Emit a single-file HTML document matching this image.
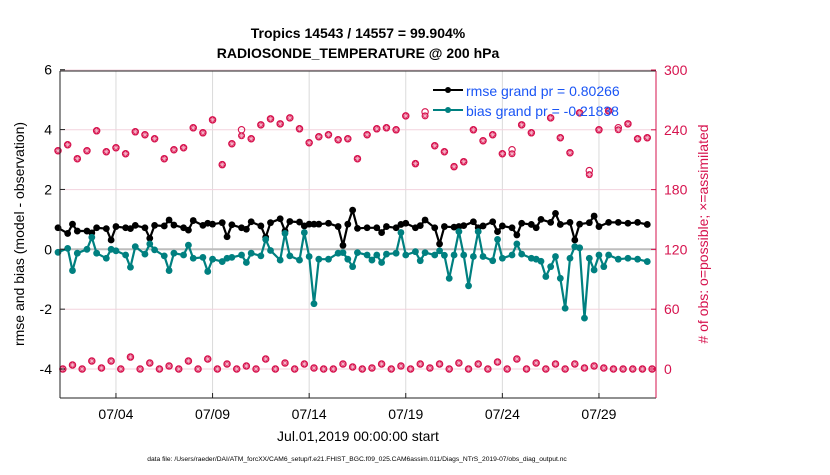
<!DOCTYPE html>
<html><head><meta charset="utf-8"><style>
body{margin:0;background:#fff;width:830px;height:470px;overflow:hidden;font-family:"Liberation Sans",sans-serif}
svg text{font-family:"Liberation Sans",sans-serif}
</style></head><body>
<svg id="chart" width="830" height="470" viewBox="0 0 830 470" xmlns="http://www.w3.org/2000/svg">
<rect width="830" height="470" fill="#fff"/>
<g id="grid"></g>
<g id="marks"></g>
<g id="axes"></g>
<text x="358" y="38" text-anchor="middle" font-size="14" font-weight="bold">Tropics 14543 / 14557 = 99.904%</text>
<text x="358" y="58" text-anchor="middle" font-size="14" font-weight="bold">RADIOSONDE_TEMPERATURE @ 200 hPa</text>
<text transform="translate(24,234) rotate(-90)" text-anchor="middle" font-size="14">rmse and bias (model - observation)</text>
<text transform="translate(708,234) rotate(-90)" text-anchor="middle" font-size="14" fill="#d6134e"># of obs: o=possible; ×=assimilated</text>
<text x="358" y="441" text-anchor="middle" font-size="14">Jul.01,2019 00:00:00 start</text>
<text x="357" y="461" text-anchor="middle" font-size="6.7">data file: /Users/raeder/DAI/ATM_forcXX/CAM6_setup/f.e21.FHIST_BGC.f09_025.CAM6assim.011/Diags_NTrS_2019-07/obs_diag_output.nc</text>
<g>
<line x1="433" y1="90" x2="463" y2="90" stroke="#000" stroke-width="2"/><circle cx="448" cy="90" r="3" fill="#000"/>
<text x="466" y="96" font-size="14" fill="#1a55f5">rmse grand pr = 0.80266</text>
<line x1="433" y1="110" x2="463" y2="110" stroke="#008080" stroke-width="2"/><circle cx="448" cy="110" r="3" fill="#008080"/>
<text x="466" y="116" font-size="14" fill="#1a55f5">bias grand pr = -0.21838</text>
</g>
</svg>
<script>
const times=[0,0.5,0.75,1,1.5,1.75,2,2.5,2.75,3,3.5,3.75,4,4.5,4.75,5,5.5,5.75,6,6.5,6.75,7,7.5,7.75,8,8.5,8.75,9,9.5,9.75,10,10.5,10.75,11,11.5,11.75,12,12.5,12.75,13,13.25,13.5,14,14.5,14.75,15,15.25,15.5,16,16.25,16.5,16.75,17,17.5,17.75,18,18.5,18.75,19,19.5,19.75,20,20.25,20.5,20.75,21,21.25,21.5,21.75,22,22.5,22.75,23,23.5,23.75,24,24.5,24.75,25,25.25,25.5,25.75,26,26.25,26.5,26.75,27,27.25,27.5,27.75,28,28.25,28.5,29,29.5,30,30.5];
const rmse=[0.72,0.53,0.84,0.61,0.61,0.55,0.72,0.69,0.31,0.76,0.72,0.69,0.8,0.72,0.37,0.8,0.78,0.98,0.81,0.72,0.64,0.96,0.8,0.87,0.84,0.89,0.42,0.82,0.72,0.67,0.92,0.78,0.4,0.89,1.02,0.61,0.93,0.91,0.78,0.84,0.84,0.84,0.87,0.76,0.13,0.84,1.31,0.7,0.72,null,0.72,0.56,0.76,0.72,0.83,0.87,0.72,0.79,0.98,0.72,0.18,0.76,null,0.74,0.76,0.79,null,0.92,0.72,0.78,0.92,0.59,0.78,0.72,0.48,0.87,0.83,0.72,1.0,null,0.9,1.2,0.83,null,0.9,0.31,0.84,null,0.89,1.11,0.76,null,0.9,0.9,0.87,0.9,0.83];
const bias=[-0.1,0.03,-0.71,-0.13,0,0.4,-0.13,-0.3,0.0,-0.05,-0.19,-0.6,0.09,-0.16,0.18,-0.02,-0.22,-0.71,-0.13,-0.19,0.14,-0.3,-0.27,-0.74,-0.33,-0.41,-0.3,-0.27,-0.19,-0.44,-0.13,-0.22,0.33,-0.04,-0.36,0.53,-0.22,-0.36,0.56,-0.24,-1.82,-0.33,-0.33,-0.13,-0.11,-0.33,-0.58,-0.11,-0.19,-0.36,-0.19,-0.44,-0.16,-0.13,0.56,-0.19,-0.08,-0.38,-0.11,-0.19,-0.05,-0.2,-0.97,-0.19,0.59,-0.19,-1.22,-0.24,0.59,-0.24,-0.38,0.33,-0.3,-0.19,0.18,-0.16,-0.3,-0.33,-0.4,-0.91,-0.58,-0.24,-0.97,-1.97,-0.3,0.09,0.05,-2.3,-0.3,-0.69,-0.19,-0.58,-0.19,-0.33,-0.3,-0.33,-0.41];
const obsTimesA=[0,0.5,1,1.5,2,2.5,3,3.5,4,4.5,5,5.5,6,6.5,7,7.5,8,8.5,9,9.5,10,10.5,11,11.5,12,12.5,13,13.5,14,14.5,15,15.5,16,16.5,17,17.5,18,18.5,19,19.5,20,20.5,21,21.5,22,22.5,23,23.5,24,24.5,25,25.5,26,26.5,27,27.5,28,28.5,29,29.5,30,30.5];
const possibleA=[219,225,211,219,239,218,222,216,238,235,231,211,220,222,242,237,250,205,226,240,231,245,251,246,252,241,227,233,235,230,231,211,235,241,242,240,254,206,258,224,218,203,208,240,229,235,216,220,245,237,null,252,232,217,257,199,240,259,242,246,231,232];
const assimA=[219,225,211,219,239,218,222,216,238,235,231,211,220,222,242,237,250,205,226,234,231,245,251,246,252,241,227,233,235,230,231,211,235,241,242,240,254,206,254,224,218,203,208,240,229,235,216,216,245,237,null,252,232,217,257,195,240,259,240,246,231,232];
const obsTimesB=[0.25,0.75,1.25,1.75,2.25,2.75,3.25,3.75,4.25,4.75,5.25,5.75,6.25,6.75,7.25,7.75,8.25,8.75,9.25,9.75,10.25,10.75,11.25,11.75,12.25,12.75,13.25,13.75,14.25,14.75,15.25,15.75,16.25,16.75,17.25,17.75,18.25,18.75,19.25,19.75,20.25,20.75,21.25,21.75,22.25,22.75,23.25,23.75,24.25,24.75,25.25,25.75,26.25,26.75,27.25,27.75,28.25,28.75,29.25,29.75,30.25,30.75];
const countB=[0,4,0,8,1,8,0,12,0,6,0,3,0,8,0,10,0,5,0,3,0,10,0,6,0,5,1,0,0,5,2,0,1,5,0,3,0,5,1,5,0,6,0,5,0,7,0,10,0,6,0,5,0,5,1,3,1,0,0,0,0,0];
const leftTicks=[6,4,2,0,-2,-4];
const rightTicks=[300,240,180,120,60,0];
const xTickDays=[3,8,13,18,23,28];
const xTickLabels=['07/04','07/09','07/14','07/19','07/24','07/29'];

const NS='http://www.w3.org/2000/svg';
const L=60,R=656,T=71,B=398;
const X=t=>58+t*19.32;
const Y=v=>249.3-v*29.93;
const Y2=n=>369-n*(299/300);
const grid=document.getElementById('grid'),marks=document.getElementById('marks'),axes=document.getElementById('axes');
function mk(tag,attrs,parent){const e=document.createElementNS(NS,tag);for(const k in attrs)e.setAttribute(k,attrs[k]);parent.appendChild(e);return e;}

xTickDays.forEach((d,i)=>{
  const g=mk('line',{x1:X(d),x2:X(d),y1:T,y2:B,stroke:'#dadada','stroke-width':1},grid);
  
  
});
rightTicks.forEach(n=>{
  const g=mk('line',{x1:L,x2:R,y1:Y2(n),y2:Y2(n),stroke:'#f3d3de','stroke-width':1},grid);
  
  
});
const zl=mk('line',{x1:L,x2:R,y1:Y(0),y2:Y(0),stroke:'#bdbdbd','stroke-width':2},grid);



function series(vals,color,name){
  let d='';let pen=false;
  vals.forEach((v,i)=>{if(v===null)return;d+=(pen?'L':'M')+X(times[i]).toFixed(1)+' '+Y(v).toFixed(1);pen=true;});
  const p=mk('path',{d:d,fill:'none',stroke:color,'stroke-width':2.2,'stroke-linejoin':'round'},marks);
  
  
  vals.forEach((v,i)=>{if(v===null)return;
    const c=mk('circle',{cx:X(times[i]),cy:Y(v),r:3.4,fill:color},marks);
    
    
  });
}
function obsMark(t,n,kind){
  const x=X(t),y=Y2(n);
  if(kind==='possible'){
    const c=mk('circle',{cx:x,cy:y,r:3.2,fill:'none',stroke:'#d6134e','stroke-width':1.1},marks);
    
    
  }else{
    const g=mk('g',{},marks);
    
    
    mk('circle',{cx:x,cy:y,r:3.5,fill:'#d6134e'},g);
    const s=2.5;
    mk('path',{d:`M${x-s} ${y}H${x+s}M${x} ${y-s}V${y+s}M${x-s*.7} ${y-s*.7}L${x+s*.7} ${y+s*.7}M${x-s*.7} ${y+s*.7}L${x+s*.7} ${y-s*.7}`,stroke:'#f6b8cb','stroke-width':0.7},g);
  }
}
obsTimesA.forEach((t,i)=>{if(possibleA[i]!==null)obsMark(t,possibleA[i],'possible');if(assimA[i]!==null)obsMark(t,assimA[i],'assim');});
obsTimesB.forEach((t,i)=>{obsMark(t,countB[i],'possible');obsMark(t,countB[i],'assim');});
series(rmse,'#000','rmse');
series(bias,'#008080','bias');

mk('line',{x1:L,x2:R,y1:T,y2:T,stroke:'#222','stroke-width':1},axes);
const bx=mk('line',{x1:L,x2:R,y1:B,y2:B,stroke:'#222','stroke-width':1},axes);


const ly=mk('line',{x1:L,x2:L,y1:T,y2:B,stroke:'#222','stroke-width':1},axes);


const ry=mk('line',{x1:R,x2:R,y1:T,y2:B,stroke:'#d6134e','stroke-width':1},axes);


leftTicks.forEach(v=>{
  mk('line',{x1:L,x2:L+5,y1:Y(v),y2:Y(v),stroke:'#222'},axes);
  const t=mk('text',{x:L-8,y:Y(v)+5,'text-anchor':'end','font-size':14},axes);
  t.textContent=v;
  
  
});
rightTicks.forEach(n=>{
  mk('line',{x1:R-5,x2:R,y1:Y2(n),y2:Y2(n),stroke:'#d6134e'},axes);
  const t=mk('text',{x:R+8,y:Y2(n)+5,'font-size':14,fill:'#d6134e'},axes);
  t.textContent=n;
  
  
});
xTickDays.forEach((d,i)=>{
  mk('line',{x1:X(d),x2:X(d),y1:B,y2:B-5,stroke:'#222'},axes);
  const t=mk('text',{x:X(d),y:419,'text-anchor':'middle','font-size':14},axes);
  t.textContent=xTickLabels[i];
  
  
});
</script>
</body></html>
